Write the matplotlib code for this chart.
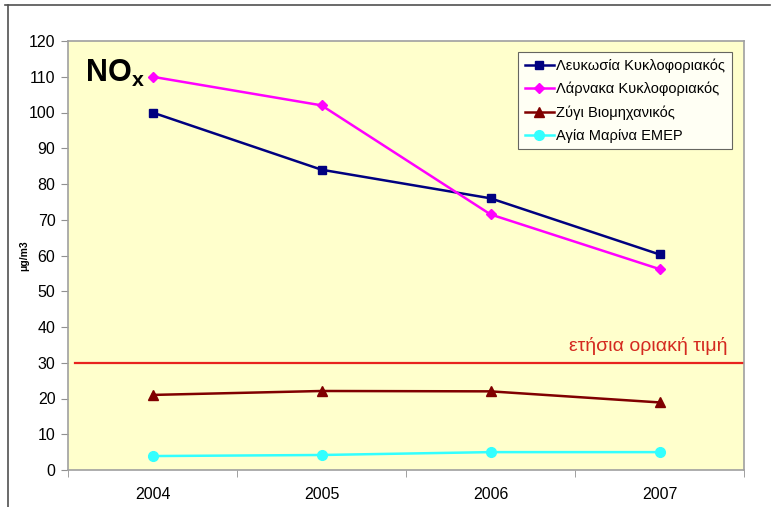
import matplotlib
matplotlib.use("Agg")
import matplotlib.pyplot as plt
from matplotlib.lines import Line2D
import numpy as np

plt.rcParams['font.family'] = ['Liberation Sans', 'DejaVu Sans']

years = ['2004', '2005', '2006', '2007']
lefkosia = [100, 84, 76, 60.3]
larnaka = [110, 102, 71.5, 56.2]
zygi = [21, 22.1, 22, 18.9]
agia_marina = [3.9, 4.2, 5, 5]
limit_value = 30

series = [
    ('Λευκωσία Κυκλοφοριακός', lefkosia, '#000080', 's', 6),
    ('Λάρνακα Κυκλοφοριακός', larnaka, '#FF00FF', 'D', 5),
    ('Ζύγι Βιομηχανικός', zygi, '#800000', '^', 7),
    ('Αγία Μαρίνα ΕΜΕΡ', agia_marina, '#33FFFF', 'o', 7),
]

fig = plt.figure(figsize=(7.77, 5.07), dpi=100)
ax = fig.add_axes([68/777, 1-470/507, (744-68)/777, (470-41)/507])
ax.set_facecolor('#FFFFCC')

x = np.arange(len(years))
for name, vals, col, mk, ms in series:
    ax.plot(x, vals, color=col, marker=mk, markersize=ms, linewidth=1.8, label=name)

ax.axhline(limit_value, color='#E8231E', linewidth=1.6, xmin=0.01)
ax.text(3.4, limit_value + 2.2, 'ετήσια οριακή τιμή', color='#D42A20',
        fontsize=14, ha='right', va='bottom')

ax.text(0.025, 0.925, r'NO$_\mathregular{x}$', transform=ax.transAxes,
        fontsize=22, fontweight='bold', ha='left', va='center')

ax.set_xlim(-0.5, 3.5)
ax.set_ylim(0, 120)
ax.set_yticks(range(0, 121, 10))
ax.set_xticks(x)
ax.set_xticklabels(years)
ax.set_xticks(np.arange(-0.5, 3.6, 1), minor=True)
ax.tick_params(axis='x', which='major', length=0, pad=12, labelsize=11.5)
ax.tick_params(axis='x', which='minor', length=5, color='#909090', direction='out')
ax.tick_params(axis='y', length=5, color='#909090', labelsize=11.5, pad=4)
for s in ax.spines.values():
    s.set_color('#A0A0A0')
    s.set_linewidth(1.2)

ax.set_ylabel('μg/m3', fontsize=7.5, fontweight='bold', labelpad=0)

leg = ax.legend(loc='upper right', bbox_to_anchor=(0.982, 0.975), fontsize=10.5,
                frameon=True, fancybox=False, edgecolor='#404040',
                handlelength=2.0, handletextpad=0.15, borderpad=0.45,
                labelspacing=0.62, borderaxespad=0)
leg.get_frame().set_linewidth(0.8)

fig.add_artist(Line2D([5/777, 770/777], [1-5/507, 1-5/507], color='#505050', linewidth=1.2))
fig.add_artist(Line2D([8/777, 8/777], [0, 1-5/507], color='#505050', linewidth=1.2))

fig.savefig('out.png', dpi=100)
